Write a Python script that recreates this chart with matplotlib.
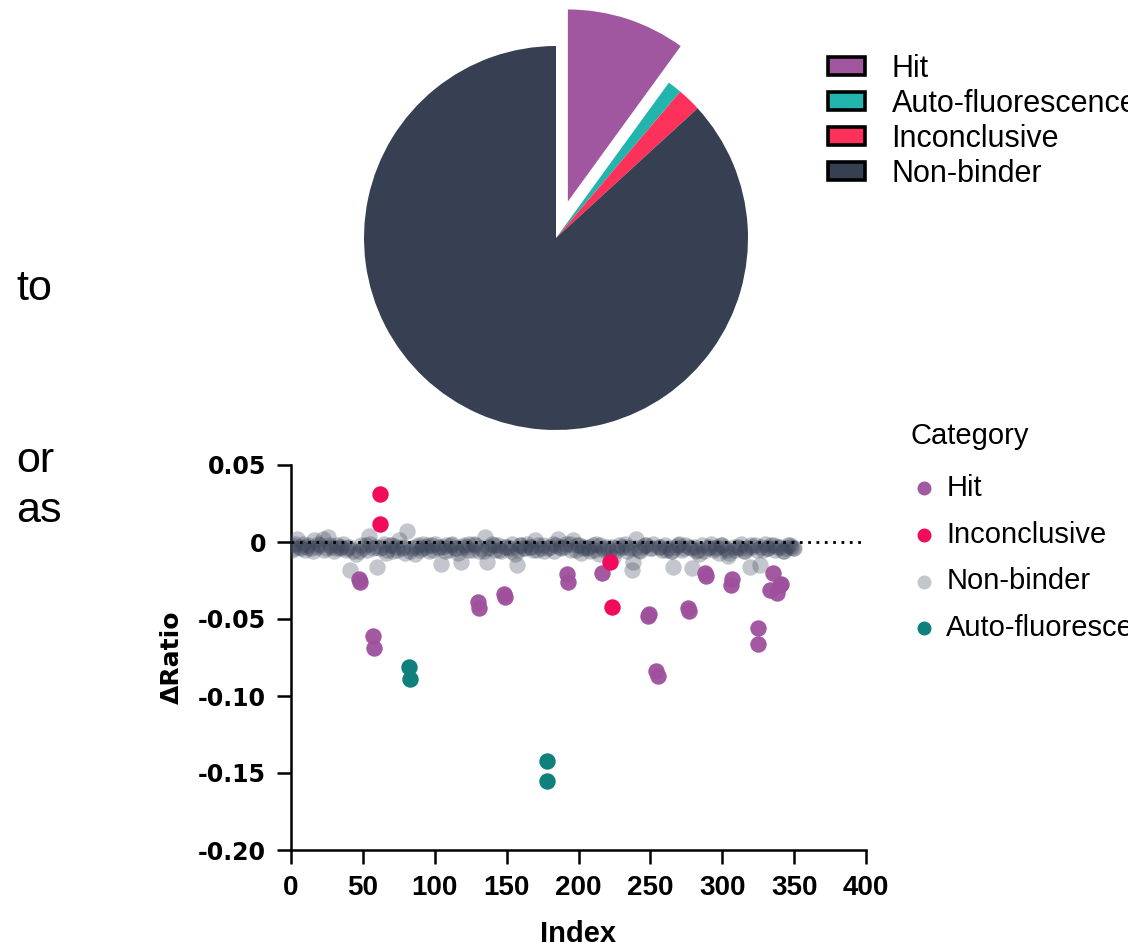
import matplotlib
matplotlib.use("Agg")
import matplotlib.pyplot as plt
from matplotlib.patches import Patch

plt.rcParams['font.family'] = ['Liberation Sans', 'DejaVu Sans']

# ---------------- data ----------------
pie_labels = ["Hit", "Auto-fluorescence", "Inconclusive", "Non-binder"]
pie_values = [10.0, 1.2, 2.0, 86.8]
pie_colors = ["#a0579f", "#22b5ae", "#fd3159", "#364052"]

hit_x = [47, 48, 57, 58, 130, 131, 148, 149, 192, 193, 216, 248, 249, 254, 255,
         276, 277, 288, 289, 306, 307, 325, 325, 333, 335, 338, 340, 341]
hit_y = [-0.024, -0.026, -0.061, -0.069, -0.039, -0.043, -0.034, -0.036, -0.021, -0.026,
         -0.020, -0.048, -0.047, -0.084, -0.087, -0.043, -0.045, -0.020, -0.022, -0.028,
         -0.024, -0.056, -0.066, -0.031, -0.020, -0.033, -0.028, -0.027]

inc_x = [62, 62, 222, 223]
inc_y = [0.031, 0.012, -0.013, -0.042]

auto_x = [82, 83, 178, 178]
auto_y = [-0.081, -0.089, -0.142, -0.155]

nb_x = [0, 2, 4, 6, 8, 10, 12, 14, 16, 18,
        20, 22, 24, 26, 28, 30, 32, 34, 36, 38,
        40, 41, 43, 45, 50, 52, 54, 55, 57, 60,
        63, 65, 67, 69, 71, 73, 75, 77, 79, 81,
        84, 86, 88, 90, 92, 94, 96, 98, 100, 102,
        104, 106, 108, 110, 112, 114, 116, 118, 120, 122,
        124, 126, 128, 132, 134, 135, 136, 138, 140, 142,
        144, 146, 150, 152, 154, 156, 157, 158, 160, 162,
        164, 166, 168, 170, 172, 174, 176, 180, 182, 184,
        186, 188, 190, 194, 196, 198, 200, 202, 204, 206,
        208, 210, 212, 214, 218, 220, 224, 226, 228, 230,
        232, 234, 236, 237, 238, 240, 242, 244, 246, 250,
        252, 256, 258, 260, 262, 264, 266, 268, 270, 272,
        274, 278, 279, 280, 282, 284, 286, 290, 292, 294,
        296, 298, 300, 302, 304, 309, 311, 313, 315, 317,
        319, 321, 323, 326, 328, 330, 332, 336, 338, 342,
        344, 346, 348, 350,
        1, 3, 7, 11, 15, 19, 23, 27, 31, 35,
        39, 47, 49, 53, 59, 62, 66, 70, 74, 78,
        83, 87, 91, 95, 99, 103, 107, 111, 115, 119,
        123, 127, 131, 137, 141, 145, 149, 153, 159, 163,
        167, 171, 175, 179, 183, 187, 191, 195, 199, 203,
        207, 211, 215, 217, 221, 223, 227, 233, 239, 243,
        247, 251, 257, 261, 265, 269, 273, 277, 283, 287,
        291, 295, 299, 303, 305, 308, 312, 316, 320, 324,
        327, 331, 334, 337, 340, 343, 347, 349]
nb_y = [-0.002, -0.004, 0.002, -0.003, -0.001, -0.005, -0.002, -0.004, 0.001, -0.003,
        -0.002, 0.002, -0.004, 0.003, -0.003, -0.006, -0.002, -0.004, -0.001, -0.005,
        -0.003, -0.018, -0.006, -0.008, -0.004, -0.002, 0.004, -0.001, -0.004, -0.016,
        -0.003, -0.001, -0.005, -0.002, -0.006, -0.003, 0.001, -0.004, -0.007, 0.007,
        -0.004, -0.008, -0.002, -0.005, -0.001, -0.003, -0.006, -0.002, -0.001, -0.004,
        -0.014, -0.003, -0.002, -0.005, -0.001, -0.004, -0.007, -0.013, -0.002, -0.003,
        -0.001, -0.005, -0.002, -0.004, -0.006, 0.003, -0.013, -0.003, -0.001, -0.005,
        -0.002, -0.006, -0.003, -0.004, -0.001, -0.008, -0.015, -0.005, -0.002, -0.004,
        -0.001, -0.003, -0.005, 0.001, -0.002, -0.004, -0.006, -0.003, -0.001, -0.002,
        0.002, -0.004, -0.003, -0.001, 0.001, -0.005, -0.002, -0.007, -0.003, -0.004,
        -0.006, -0.002, -0.001, -0.008, -0.005, -0.003, -0.010, -0.004, -0.002, -0.003,
        -0.001, -0.006, -0.004, -0.018, -0.013, 0.002, -0.005, -0.003, -0.002, -0.004,
        -0.001, -0.003, -0.005, -0.002, -0.004, -0.006, -0.016, -0.003, -0.001, -0.005,
        -0.002, -0.004, -0.017, -0.003, -0.006, -0.008, -0.002, -0.004, -0.001, -0.005,
        -0.003, -0.007, -0.002, -0.004, -0.009, -0.005, -0.003, -0.001, -0.006, -0.004,
        -0.016, -0.003, -0.002, -0.015, -0.005, -0.001, -0.004, -0.002, -0.003, -0.006,
        -0.004, -0.002, -0.003, -0.004,
        -0.005, -0.001, -0.004, -0.003, -0.006, -0.001, -0.005, -0.002, -0.004, -0.003,
        -0.004, -0.006, -0.002, -0.005, -0.003, -0.004, -0.007, -0.002, -0.005, -0.003,
        -0.006, -0.003, -0.004, -0.002, -0.005, -0.003, -0.006, -0.002, -0.004, -0.003,
        -0.005, -0.001, -0.006, -0.004, -0.002, -0.005, -0.003, -0.006, -0.002, -0.004,
        -0.003, -0.005, -0.002, -0.004, -0.006, -0.003, -0.001, -0.005, -0.002, -0.004,
        -0.003, -0.005, -0.002, -0.004, -0.006, -0.003, -0.005, -0.003, -0.004, -0.006,
        -0.002, -0.004, -0.003, -0.005, -0.006, -0.002, -0.004, -0.003, -0.005, -0.006,
        -0.003, -0.004, -0.002, -0.005, -0.007, -0.003, -0.004, -0.006, -0.002, -0.005,
        -0.003, -0.004, -0.002, -0.005, -0.003, -0.006, -0.002, -0.004]

side_texts = ["to", "or", "as"]
legend_title = "Category"

W, H = 1128, 943
fig = plt.figure(figsize=(W / 100, H / 100), dpi=100)

# ---------------- side text fragments (baseline positions in px) ----------------
for txt, ypx in zip(side_texts, [300, 472, 522]):
    fig.text(16 / W, 1 - ypx / H, txt, fontsize=31, ha='left', va='baseline', color='black')

# ---------------- pie ----------------
cx, cy, R = 556, 238, 192
box = 2.5 * R
axp = fig.add_axes([(cx - box / 2) / W, (H - cy - box / 2) / H, box / W, box / H])
axp.pie(pie_values, colors=pie_colors, startangle=90, counterclock=False,
        explode=[0.2, 0, 0, 0], radius=1.0, wedgeprops=dict(linewidth=0))
axp.set_xlim(-1.25, 1.25)
axp.set_ylim(-1.25, 1.25)
axp.set_aspect('equal')
axp.axis('off')

pie_handles = [Patch(facecolor=c, edgecolor='black', linewidth=2.6) for c in pie_colors]
fig.legend(pie_handles, pie_labels, loc='upper left', bbox_to_anchor=(828 / W, 1 - 54 / H),
           frameon=False, fontsize=22, handlelength=1.22, handleheight=0.5,
           handletextpad=0.86, labelspacing=0.16, borderpad=0, borderaxespad=0)

# ---------------- scatter ----------------
ax = fig.add_axes([291 / W, (H - 850) / H, 575 / W, 385 / H])
ms = 140
h1 = ax.scatter(hit_x, hit_y, s=ms, color="#9e509c", alpha=0.95, linewidths=0, zorder=4, label="Hit")
h2 = ax.scatter(inc_x, inc_y, s=ms, color="#f00b5b", linewidths=0, zorder=4, label="Inconclusive")
h3 = ax.scatter(nb_x, nb_y, s=ms, color="#3a4358", alpha=0.3, linewidths=0, zorder=3, label="Non-binder")
h4 = ax.scatter(auto_x, auto_y, s=ms, color="#0f807c", linewidths=0, zorder=4, label="Auto-fluorescence")
ax.axhline(0, color='black', linestyle=(0, (1, 2)), linewidth=2.0, zorder=5)

ax.set_xlim(0, 400)
ax.set_ylim(-0.20, 0.05)
ax.set_xticks([0, 50, 100, 150, 200, 250, 300, 350, 400])
ax.set_yticks([0.05, 0, -0.05, -0.10, -0.15, -0.20])
ax.set_yticklabels(["0.05", "0", "-0.05", "-0.10", "-0.15", "-0.20"])
ax.spines['top'].set_visible(False)
ax.spines['right'].set_visible(False)
for s in ['left', 'bottom']:
    ax.spines[s].set_linewidth(1.8)
ax.tick_params(direction='out', length=10, width=1.8)
ax.tick_params(axis='x', labelsize=20, pad=8)
ax.tick_params(axis='y', labelsize=17, pad=8)
for lab in ax.get_xticklabels():
    lab.set_fontweight('bold')
for lab in ax.get_yticklabels():
    lab.set_fontweight('bold')
    lab.set_family('DejaVu Sans')
ax.set_xlabel("Index", fontsize=21, fontweight='bold', labelpad=14)
ax.set_ylabel("ΔRatio", fontsize=18, fontweight='bold', labelpad=10, family='DejaVu Sans')

fig.text(910 / W, 1 - 444 / H, legend_title, fontsize=21, ha='left', va='baseline')
fig.legend([h1, h2, h3, h4], ["Hit", "Inconclusive", "Non-binder", "Auto-fluorescence"],
           loc='upper left', bbox_to_anchor=(912 / W, 1 - 474 / H), frameon=False,
           fontsize=21, markerscale=0.85, handlelength=0.8, handletextpad=0.38,
           labelspacing=0.64, borderpad=0, borderaxespad=0)

fig.savefig("out.png", dpi=100)
